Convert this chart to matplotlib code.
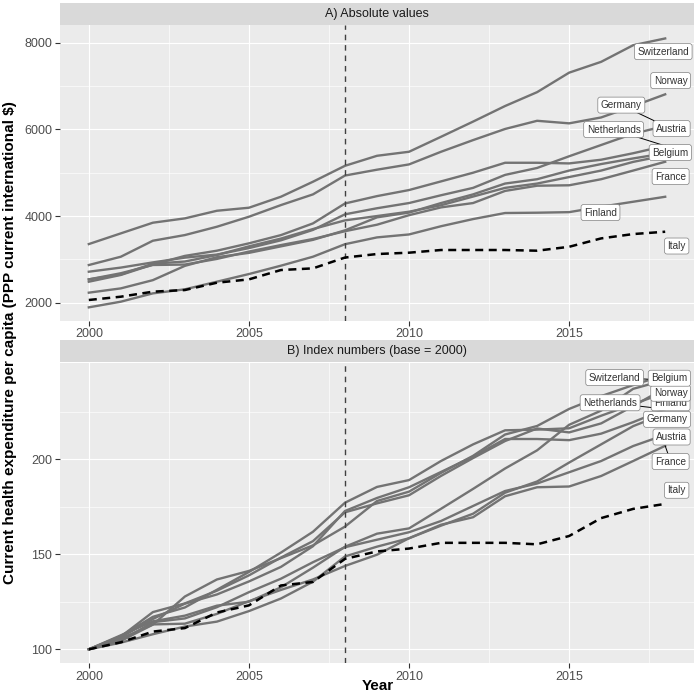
import matplotlib
matplotlib.use("Agg")
import matplotlib.pyplot as plt
import numpy as np

plt.rcParams['font.family'] = ['Liberation Sans', 'DejaVu Sans']

# data: current health expenditure per capita, PPP current international $
years = list(range(2000, 2019))

countries = ['Switzerland', 'Norway', 'Germany', 'Austria', 'Netherlands',
             'Belgium', 'France', 'Finland', 'Italy']

switzerland = [3353, 3600, 3846, 3946, 4122, 4192, 4446, 4792, 5160, 5391,
               5484, 5830, 6180, 6540, 6860, 7310, 7560, 7944, 8100]
norway = [2869, 3061, 3430, 3561, 3753, 3984, 4253, 4500, 4935, 5070,
          5192, 5484, 5753, 6010, 6199, 6140, 6276, 6537, 6810]
germany = [2715, 2810, 2930, 3040, 3110, 3260, 3440, 3680, 4040, 4180,
           4300, 4480, 4650, 4950, 5110, 5380, 5640, 5900, 6080]
austria = [2538, 2650, 2900, 2950, 3100, 3300, 3480, 3700, 3900, 4000,
           4100, 4250, 4450, 4650, 4750, 4900, 5050, 5250, 5400]
netherlands = [2484, 2640, 2880, 3080, 3200, 3370, 3560, 3830, 4290, 4460,
               4600, 4800, 5000, 5230, 5230, 5215, 5300, 5450, 5620]
belgium = [2231, 2330, 2520, 2850, 3050, 3150, 3300, 3450, 3670, 3970,
           4080, 4300, 4500, 4750, 4850, 5050, 5200, 5330, 5450]
france = [2538, 2680, 2870, 2880, 3010, 3180, 3330, 3470, 3650, 3800,
          4020, 4200, 4300, 4580, 4700, 4710, 4850, 5050, 5253]
finland = [1892, 2023, 2215, 2308, 2484, 2661, 2854, 3061, 3350, 3507,
           3575, 3765, 3930, 4070, 4077, 4090, 4215, 4330, 4445]
italy = [2062, 2138, 2254, 2292, 2461, 2538, 2754, 2792, 3042, 3123,
         3154, 3216, 3216, 3216, 3200, 3290, 3484, 3584, 3638]

values = {'Switzerland': switzerland, 'Norway': norway, 'Germany': germany,
          'Austria': austria, 'Netherlands': netherlands, 'Belgium': belgium,
          'France': france, 'Finland': finland, 'Italy': italy}

crisis_year = 2008

# label placement (x year, y value) for each panel, and which get a segment
labels_abs = {'Switzerland': (2017.94, 7795), 'Norway': (2018.17, 7126),
              'Germany': (2016.63, 6561), 'Netherlands': (2016.39, 5995),
              'Austria': (2018.20, 6018), 'Belgium': (2018.16, 5465),
              'France': (2018.17, 4911), 'Finland': (2015.98, 4081),
              'Italy': (2018.36, 3308)}
segments_abs = ['Germany', 'Netherlands']

labels_idx = {'Switzerland': (2016.42, 242.8), 'Belgium': (2018.13, 242.5),
              'Norway': (2018.17, 234.6), 'Netherlands': (2016.28, 229.6),
              'Finland': (2018.17, 229.6), 'Germany': (2018.06, 220.9),
              'Austria': (2018.20, 211.6), 'France': (2018.17, 198.7),
              'Italy': (2018.36, 183.6)}
segments_idx = ['Switzerland', 'Netherlands', 'France']
label_order_idx = ['Italy', 'France', 'Austria', 'Germany', 'Finland',
                   'Netherlands', 'Norway', 'Belgium', 'Switzerland']

W, H = 696, 693
fig = plt.figure(figsize=(W / 100, H / 100), dpi=100)
ax1 = fig.add_axes([60 / W, 1 - 320.8 / H, 634 / W, 295.8 / H])
ax2 = fig.add_axes([60 / W, 1 - 663 / H, 634 / W, 300 / H])
strip1 = fig.add_axes([60 / W, 1 - 25 / H, 634 / W, 22 / H])
strip2 = fig.add_axes([60 / W, 1 - 362 / H, 634 / W, 22 / H])

for s, title in [(strip1, 'A) Absolute values'), (strip2, 'B) Index numbers (base = 2000)')]:
    s.set_facecolor('#D9D9D9')
    s.set_xticks([])
    s.set_yticks([])
    for sp in s.spines.values():
        sp.set_visible(False)
    s.text(0.5, 0.5, title, ha='center', va='center', fontsize=9, color='#1A1A1A',
           transform=s.transAxes)


def draw_panel(ax, data, labels, segs, order, yticks, yminor):
    ax.set_facecolor('#EBEBEB')
    for sp in ax.spines.values():
        sp.set_visible(False)
    for name in countries:
        if name == 'Italy':
            ax.plot(years, data[name], color='black', lw=1.8, ls=(0, (3.2, 2.2)),
                    zorder=3, solid_capstyle='butt', dash_capstyle='butt')
        else:
            ax.plot(years, data[name], color='#737373', lw=1.7, zorder=2)
    ax.axvline(crisis_year, color='#404040', lw=1.0, ls=(0, (4, 3.5)), zorder=2.5)
    ax.set_xlim(1999.1, 2018.9)
    ax.set_xticks([2000, 2005, 2010, 2015])
    ax.set_xticks([2002.5, 2007.5, 2012.5, 2017.5], minor=True)
    ax.set_yticks(yticks)
    ax.set_yticks(yminor, minor=True)
    ax.grid(which='major', color='white', lw=0.85, zorder=0)
    ax.grid(which='minor', color='white', lw=0.45, zorder=0)
    ax.set_axisbelow(True)
    ax.tick_params(which='major', length=3.5, width=0.8, color='#333333',
                   labelsize=9, labelcolor='#4D4D4D', pad=2)
    ax.tick_params(which='minor', length=0)
    for name in segs:
        lx, ly = labels[name]
        ax.plot([lx, years[-1]], [ly, data[name][-1]], color='black', lw=0.7, zorder=4)
    for name in order:
        lx, ly = labels[name]
        ax.text(lx, ly, name, ha='center', va='center', fontsize=7.2, color='#333333',
                zorder=5,
                bbox=dict(boxstyle='round,pad=0.3,rounding_size=0.25', fc='white',
                          ec='#808080', lw=0.5))


index = {n: [100 * v / values[n][0] for v in values[n]] for n in countries}

draw_panel(ax1, values, labels_abs, segments_abs, countries,
           [2000, 4000, 6000, 8000], [3000, 5000, 7000])
draw_panel(ax2, index, labels_idx, segments_idx, label_order_idx,
           [100, 150, 200], [125, 175, 225])
ax2.set_ylim(92.8, 250.5)

fig.text(378 / W, 1 - 686 / H, 'Year', ha='center', va='center', fontsize=11,
         fontweight='bold')
fig.text(10 / W, 1 - 343 / H,
         'Current health expenditure per capita (PPP current international $)',
         ha='center', va='center', rotation=90, fontsize=11, fontweight='bold')

fig.savefig('out.png', dpi=100, facecolor='white')
